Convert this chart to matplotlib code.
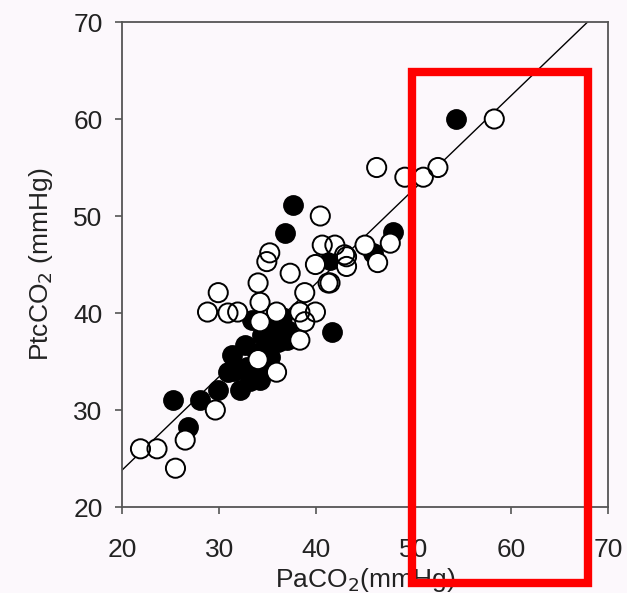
import numpy as np
import matplotlib
matplotlib.use("Agg")
import matplotlib.pyplot as plt
import matplotlib.patches as patches

plt.rcParams['font.family'] = ['Liberation Sans', 'DejaVu Sans']

# open circles (PaCO2, PtcCO2)
open_x = [58.3, 46.2, 49.1, 51.0, 52.5, 40.4, 40.6, 41.9, 42.9, 39.9, 43.1, 45.0,
          46.3, 47.6, 41.2, 37.3, 34.9, 35.2, 34.0, 34.2, 35.9, 34.2, 38.3, 39.9,
          38.8, 38.8, 38.3, 41.4, 43.1, 34.0, 35.9, 29.6, 26.5, 23.6, 21.9, 25.5,
          29.9, 28.8, 30.9, 31.9]
open_y = [60.0, 55.0, 54.0, 54.0, 55.0, 50.0, 47.0, 47.0, 46.0, 45.0, 44.8, 47.0,
          45.2, 47.2, 43.1, 44.1, 45.3, 46.2, 43.1, 41.1, 40.1, 39.1, 40.1, 40.1,
          39.1, 42.1, 37.2, 43.1, 45.8, 35.2, 33.9, 30.0, 26.9, 26.0, 26.0, 24.0,
          42.1, 40.1, 40.0, 40.1]

# filled circles
fill_x = [25.2, 28.0, 29.9, 30.9, 32.1, 26.8, 33.4, 37.0, 36.5, 34.9, 33.9, 34.2,
          32.9, 35.2, 37.0, 41.6, 41.4, 37.6, 36.8, 47.9, 54.4, 45.8, 31.3, 32.7,
          34.4, 35.7, 33.2, 36.0, 34.0, 31.5]
fill_y = [31.0, 31.0, 32.1, 33.9, 32.1, 28.2, 39.3, 38.2, 39.6, 36.5, 35.9, 33.1,
          34.4, 35.5, 37.2, 38.0, 45.5, 51.1, 48.2, 48.3, 60.0, 46.2, 35.7, 36.7,
          37.7, 38.8, 33.0, 37.0, 34.0, 34.0]

# regression line end points
line_x = [20, 67.9]
line_y = [23.8, 70]

bg = '#fcf8fc'
fig = plt.figure(figsize=(6.27, 5.93), dpi=100, facecolor=bg)
ax = fig.add_axes([0.1946, 0.145, 0.7751, 0.8179], facecolor=bg)

ax.plot(line_x, line_y, color='black', lw=1.0, zorder=2)
ax.scatter(fill_x, fill_y, s=190, c='black', edgecolors='black', linewidths=1.2, zorder=3)
ax.scatter(open_x, open_y, s=190, c='white', edgecolors='none', zorder=4)
ax.scatter(open_x, open_y, s=190, facecolors='none', edgecolors='black', linewidths=1.4, zorder=5)

ax.set_xlim(20, 70)
ax.set_ylim(20, 70)
ax.set_xticks(np.arange(20, 71, 10))
ax.set_yticks(np.arange(20, 71, 10))
ax.tick_params(direction='out', length=5, width=1.2, labelsize=19, color='#555555',
               labelcolor='#222222')
ax.tick_params(axis='x', pad=17)
ax.tick_params(axis='y', pad=9)
for sp in ax.spines.values():
    sp.set_color('#555555')
    sp.set_linewidth(1.3)

ax.set_xlabel('PaCO$_2$(mmHg)', fontsize=19, color='#222222', labelpad=3)
ax.set_ylabel('PtcCO$_2$ (mmHg)', fontsize=19, color='#222222', labelpad=13)

# red highlight box drawn over the figure
rect = patches.Rectangle((412 / 627, 1 - 583 / 593), 176 / 627, 511 / 593,
                         transform=fig.transFigure, fill=False,
                         edgecolor='#ff0000', linewidth=6, zorder=10)
fig.patches.append(rect)

fig.savefig('out.png', dpi=100, facecolor=bg)
